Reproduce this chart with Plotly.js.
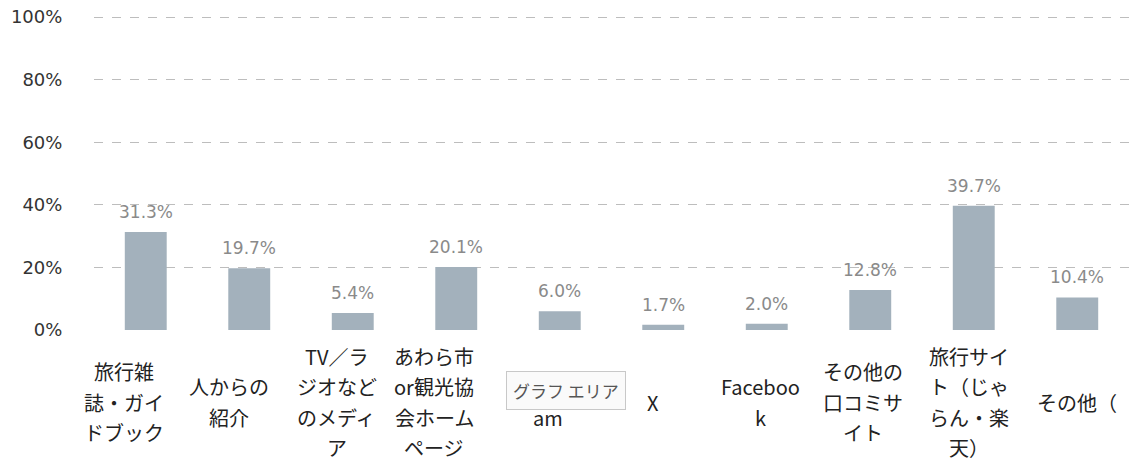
<!DOCTYPE html>
<html>
<head>
<meta charset="utf-8">
<script src="https://cdn.plot.ly/plotly-3.0.1.min.js"></script>
<style>html,body{margin:0;padding:0;background:#fff;overflow:hidden;}#chart{width:1129px;height:461px;}</style>
</head>
<body>
<div id="chart"></div>
<script>
// ---- data ----
const categories = ["旅行雑誌・ガイドブック","人からの紹介","TV／ラジオなどのメディア","あわら市or観光協会ホームページ","Instagram","X","Facebook","その他の口コミサイト","旅行サイト（じゃらん・楽天）","その他（"];
// wrapped tick labels as seen (the upper line of "Instagram" is hidden under the tooltip)
const labelLines = [
  ["旅行雑","誌・ガイ","ドブック"],
  ["人からの","紹介"],
  ["TV／ラ","ジオなど","のメディ","ア"],
  ["あわら市","or観光協","会ホーム","ページ"],
  ["","am"],
  ["X"],
  ["Faceboo","k"],
  ["その他の","口コミサ","イト"],
  ["旅行サイ","ト（じゃ","らん・楽","天）"],
  ["その他（"]
];
const values = [0.313, 0.197, 0.054, 0.201, 0.060, 0.017, 0.020, 0.128, 0.397, 0.104];
const valueLabels = ["31.3%","19.7%","5.4%","20.1%","6.0%","1.7%","2.0%","12.8%","39.7%","10.4%"];
const yTickVals = [0, 0.2, 0.4, 0.6, 0.8, 1.0];
const yTickText = ["0%","20%","40%","60%","80%","100%"];
const tooltipText = "グラフ エリア";

// ---- styles ----
const labelDx = [-22,-20,-16,-22,-12,-10,-6,-7,-5,0];
const lineGap = 30.5;
const labelCenterPx = 72; // px below the 0% line

const annotations = [];
values.forEach((v,i)=>{
  annotations.push({
    x: categories[i], y: v, xref:'x', yref:'y',
    text: valueLabels[i], showarrow:false, yanchor:'middle', yshift:20,
    font:{family:'"DejaVu Sans", sans-serif', size:17, color:'#8a8a8a'}
  });
});
labelLines.forEach((lines,i)=>{
  const n = lines.length;
  lines.forEach((ln,j)=>{
    if(!ln) return;
    annotations.push({
      x: categories[i], y: 0, xref:'x', yref:'y',
      text: ln, showarrow:false, yanchor:'middle', xanchor:'center',
      xshift: labelDx[i],
      yshift: -(labelCenterPx + (j-(n-1)/2)*lineGap),
      font:{family:'"Noto Sans CJK JP", sans-serif', size:20, color:'#222'}
    });
  });
});
annotations.push({
  x: 0.456, y: -0.19, xref:'paper', yref:'paper',
  text: tooltipText, showarrow:false, xanchor:'center', yanchor:'middle',
  bgcolor:'#fafafa', bordercolor:'#c8c8c8', borderwidth:1, borderpad:6,
  font:{family:'"Noto Sans CJK JP", sans-serif', size:17, color:'#555'}
});

const trace = {
  type:'bar', x: categories, y: values,
  marker:{color:'#a3b1bc', line:{width:0}},
  hoverinfo:'none'
};

const layout = {
  width:1129, height:461,
  margin:{l:94, r:0, t:14, b:131, pad:0, autoexpand:false},
  paper_bgcolor:'#fff', plot_bgcolor:'#fff',
  bargap:0.595,
  showlegend:false,
  xaxis:{type:'category', range:[-0.5, categories.length-0.5], automargin:false, showticklabels:false, showgrid:false, zeroline:false, showline:false, ticks:''},
  yaxis:{range:[0,1.01], automargin:false, tickvals:yTickVals, ticktext:yTickText,
    showgrid:true, gridcolor:'#bdbdbd', griddash:'dash', gridwidth:1,
    zeroline:false, showline:false, ticks:'outside', ticklen:27, tickcolor:'rgba(0,0,0,0)',
    tickfont:{family:'"DejaVu Sans", sans-serif', size:18, color:'#333'}},
  annotations: annotations
};
Plotly.newPlot('chart',[trace],layout,{displayModeBar:false, staticPlot:true});
</script>
</body>
</html>
